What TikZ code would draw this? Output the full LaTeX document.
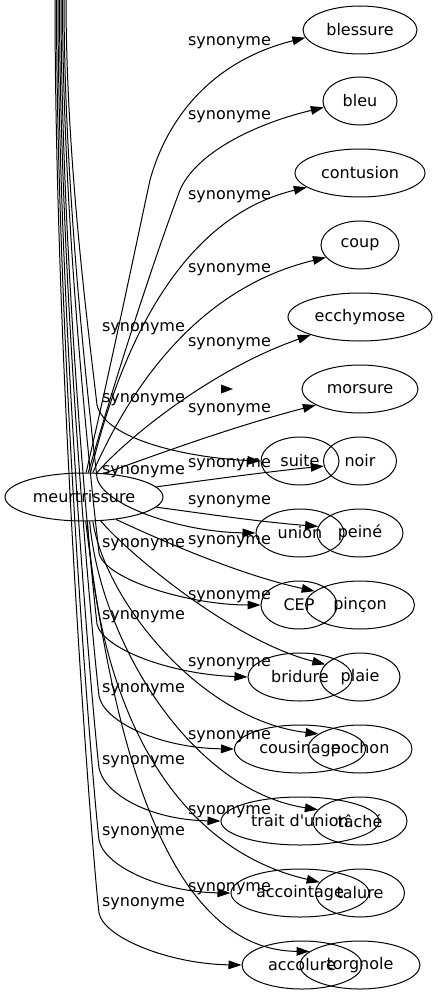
\documentclass[tikz,border=0pt]{standalone}
\usepackage{fontspec}
\setmainfont{DejaVu Sans}
\usetikzlibrary{arrows.meta,shapes.geometric}
\begin{document}
\begin{tikzpicture}[x=0.75pt,y=-0.75pt,
  every node/.style={font=\fontsize{12}{14}\selectfont},
  nd/.style={draw,ellipse,inner sep=0pt,minimum height=36pt,line width=0.75pt},
  lbl/.style={anchor=base,inner sep=0pt},
  edge/.style={draw,line width=0.75pt,-{Triangle[length=9.75pt,width=6.5pt]}}]
\useasboundingbox (0,0) rectangle (437,995);
% main node
\node[nd,minimum width=118.5pt] (m) at (84,497) {meurtrissure};
% right column
\node[nd,minimum width=85.5pt]  (blessure)  at (360,30)  {blessure};
\node[nd,minimum width=55.5pt]  (bleu)      at (360,101) {bleu};
\node[nd,minimum width=97.5pt]  (contusion) at (360,173) {contusion};
\node[nd,minimum width=58.5pt]  (coup)      at (360,245) {coup};
\node[nd,minimum width=108pt]   (ecchymose) at (360,317) {ecchymose};
\node[nd,minimum width=87pt]    (morsure)   at (360,389) {morsure};
\node[nd,minimum width=54.75pt] (noir)      at (360,461) {noir};
\node[nd,minimum width=64.5pt]  (peine)     at (360,533) {peiné};
\node[nd,minimum width=81.75pt] (pincon)    at (360,605) {pinçon};
\node[nd,minimum width=60pt]    (plaie)     at (360,677) {plaie};
\node[nd,minimum width=78pt]    (pochon)    at (360,749) {pochon};
\node[nd,minimum width=70.5pt]  (tache)     at (360,821) {tâché};
\node[nd,minimum width=66.75pt] (talure)    at (360,893) {talure};
\node[nd,minimum width=90pt]    (torgnole)  at (360,965) {torgnole};
% second column
\node[nd,minimum width=58.5pt]  (suite)      at (300,461) {suite};
\node[nd,minimum width=66pt]    (union)      at (300,533) {union};
\node[nd,minimum width=57pt]    (cep)        at (299,605) {CEP};
\node[nd,minimum width=78pt]    (bridure)    at (300,677) {bridure};
\node[nd,minimum width=98.25pt] (cousinage)  at (300,749) {cousinage};
\node[nd,minimum width=118.5pt] (trait)      at (300,821) {trait d\textquotesingle union};
\node[nd,minimum width=103.5pt] (accointage) at (300,893) {accointage};
\node[nd,minimum width=90pt]    (accolure)   at (302,965) {accolure};
% labels, left column
\node[lbl] (la1) at (143.5,331) {synonyme};
\node[lbl] (la2) at (143.5,402) {synonyme};
\node[lbl] (la3) at (143.5,474) {synonyme};
\node[lbl] (la4) at (143.5,547) {synonyme};
\node[lbl] (la5) at (143.5,619) {synonyme};
\node[lbl] (la6) at (143.5,692) {synonyme};
\node[lbl] (la7) at (143.5,764) {synonyme};
\node[lbl] (la8) at (143.5,835) {synonyme};
\node[lbl] (la9) at (143.5,906) {synonyme};
% labels, middle column
\node[lbl] (lb1)  at (229.5,46)  {synonyme};
\node[lbl] (lb2)  at (229.5,120) {synonyme};
\node[lbl] (lb3)  at (229.5,199) {synonyme};
\node[lbl] (lb4)  at (229.5,272) {synonyme};
\node[lbl] (lb5)  at (229.5,346) {synonyme};
\node[lbl] (lb6)  at (229.5,412) {synonyme};
\node[lbl] (lb7)  at (229.5,467) {synonyme};
\node[lbl] (lb8)  at (229.5,504) {synonyme};
\node[lbl] (lb9)  at (229.5,544) {synonyme};
\node[lbl] (lb10) at (229.5,599) {synonyme};
\node[lbl] (lb11) at (229.5,666) {synonyme};
\node[lbl] (lb12) at (229.5,739) {synonyme};
\node[lbl] (lb13) at (229.5,814) {synonyme};
\node[lbl] (lb14) at (229.5,891) {synonyme};
% free ends at the top
\coordinate (t1) at (66,-2);
\coordinate (t2) at (64,-2);
\coordinate (t3) at (62.5,-2);
\coordinate (t4) at (61,-2);
\coordinate (t5) at (59.5,-2);
\coordinate (t6) at (58,-2);
\coordinate (t7) at (56.5,-2);
\coordinate (t8) at (55,-2);
% edges from the top to the second column
\draw[edge] (t1) .. controls (66,162) and (89,335) .. (97,405) .. controls (105,440) and (190,458) .. (suite.west);
\draw[edge] (t2) .. controls (64,191) and (89,408) .. (97,478) .. controls (103,505) and (180,532) .. (union.west);
\draw[edge] (t3) .. controls (62.5,221) and (91,483) .. (99,553) .. controls (105,580) and (190,605) .. (cep.west);
\draw[edge] (t4) .. controls (61,250) and (89,554) .. (97,624) .. controls (102,648) and (168,674) .. (bridure.west);
\draw[edge] (t5) .. controls (59.5,278) and (91,626) .. (99,696) .. controls (104,722) and (160,748) .. (cousinage.west);
\draw[edge] (t6) .. controls (58,307) and (91,698) .. (99,768) .. controls (104,794) and (150,820) .. (trait.west);
\draw[edge] (t7) .. controls (56.5,336) and (91,770) .. (99,840) .. controls (104,866) and (160,892) .. (accointage.west);
\draw[edge] (t8) .. controls (55,365) and (91,843) .. (99,913) .. controls (104,938) and (170,964) .. (accolure.west);
% lone arrowhead
\fill (221,384.5) -- (233,389) -- (221,393.5) -- cycle;
% edges from meurtrissure to the right column
\draw[edge] (m.85) .. controls (110,370) and (135,250) .. (150,180) .. controls (168,115) and (215,60) .. (blessure.188);
\draw[edge] (m.80) .. controls (112,390) and (150,270) .. (180,190) .. controls (195,155) and (250,125) .. (bleu.190);
\draw[edge] (m.75) .. controls (115,370) and (170,220) .. (contusion.195);
\draw[edge] (m.70) .. controls (125,400) and (190,290) .. (coup.200);
\draw[edge] (m.62) .. controls (125,440) and (210,370) .. (ecchymose.200);
\draw[edge] (m.50) .. controls (135,463) and (220,430) .. (morsure.200);
\draw[edge] (m.8) .. controls (200,481) and (265,472) .. (noir.188);
\draw[edge] (m.-8) .. controls (200,513) and (260,522) .. (peine.171);
\draw[edge] (m.-35) .. controls (160,540) and (240,575) .. (pincon.163);
\draw[edge] (m.-55) .. controls (125,550) and (230,640) .. (plaie.160);
\draw[edge] (m.-70) .. controls (105,600) and (200,720) .. (pochon.160);
\draw[edge] (m.-77) .. controls (100,640) and (190,790) .. (tache.165);
\draw[edge] (m.-82) .. controls (100,720) and (180,850) .. (talure.165);
\draw[edge] (m.-86) .. controls (110,720) and (160,950) .. (torgnole.165);
\end{tikzpicture}
\end{document}
